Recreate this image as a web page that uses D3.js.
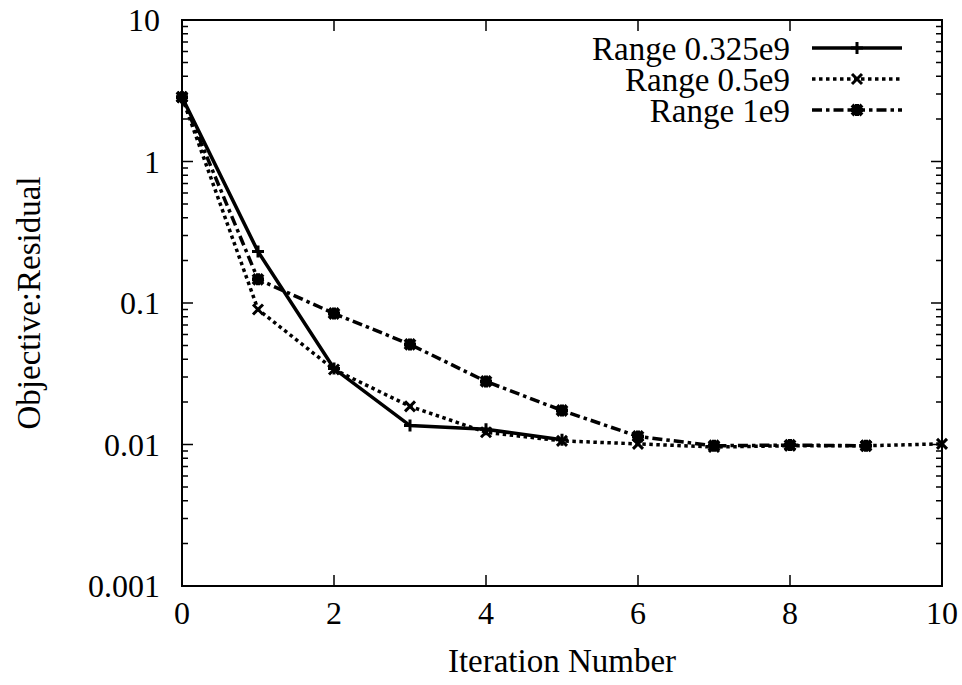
<!DOCTYPE html>
<html>
<head>
<meta charset="utf-8">
<script src="https://cdn.jsdelivr.net/npm/d3@7"></script>
<style>
  body { margin: 0; background: #fff; }
</style>
</head>
<body>
<div id="chart"></div>
<script>
// data
const iterations = [0, 1, 2, 3, 4, 5, 6, 7, 8, 9, 10];
const seriesNames = ['Range 0.325e9', 'Range 0.5e9', 'Range 1e9'];
const range0325 = [2.85, 0.231, 0.0344, 0.0136, 0.0128, 0.0108];
const range05 = [2.85, 0.090, 0.0339, 0.0186, 0.0122, 0.0106, 0.0101, 0.0096, 0.0098, 0.0098, 0.0101];
const range1 = [2.85, 0.147, 0.0843, 0.051, 0.0279, 0.0174, 0.0114, 0.0098, 0.0099, 0.0098];
const xTicks = [0, 2, 4, 6, 8, 10];
const yTicks = [0.001, 0.01, 0.1, 1, 10];

const W = 962, H = 685;
const margin = {t: 20, r: 20, b: 99, l: 182};
const FONT = '"Liberation Serif", Tinos, "Times New Roman", Times, "DejaVu Serif", serif';

const svg = d3.select('#chart').append('svg')
  .attr('width', W).attr('height', H)
  .attr('font-family', FONT);

const x = d3.scaleLinear().domain([0, 10]).range([margin.l, W - margin.r]);
const y = d3.scaleLog().domain([0.001, 10]).range([H - margin.b, margin.t]);

// minor ticks for log axis
const minor = [];
for (let e = -3; e < 1; e++) for (let k = 2; k <= 9; k++) minor.push(k * Math.pow(10, e));

const axisG = svg.append('g');
// frame
axisG.append('rect')
  .attr('x', x(0)).attr('y', y(10))
  .attr('width', x(10) - x(0)).attr('height', y(0.001) - y(10))
  .attr('fill', 'none').attr('stroke', '#000').attr('stroke-width', 2);

// y ticks (left and right, inward)
axisG.selectAll('.ymaj').data(yTicks).join('path')
  .attr('d', d => `M${x(0)},${y(d)}h11M${x(10)},${y(d)}h-11`)
  .attr('stroke', '#000').attr('stroke-width', 1.5);
axisG.selectAll('.ymin').data(minor).join('path')
  .attr('d', d => `M${x(0)},${y(d)}h6M${x(10)},${y(d)}h-6`)
  .attr('stroke', '#000').attr('stroke-width', 1.5);
// x ticks (bottom and top)
axisG.selectAll('.xmaj').data(xTicks).join('path')
  .attr('d', d => `M${x(d)},${y(0.001)}v-11M${x(d)},${y(10)}v11`)
  .attr('stroke', '#000').attr('stroke-width', 1.5);

// tick labels
axisG.selectAll('.yl').data(yTicks).join('text')
  .attr('x', x(0) - 22).attr('y', d => y(d))
  .attr('dy', '0.35em').attr('text-anchor', 'end')
  .attr('font-size', '32px').attr('font-family', FONT)
  .text(d => d3.format('~g')(d));
axisG.selectAll('.xl').data(xTicks).join('text')
  .attr('x', d => x(d)).attr('y', y(0.001) + 38)
  .attr('text-anchor', 'middle')
  .attr('font-size', '32px').attr('font-family', FONT)
  .text(d => d);

// axis titles
svg.append('text')
  .attr('x', (x(0) + x(10)) / 2).attr('y', 672)
  .attr('text-anchor', 'middle').attr('font-size', '33px').attr('font-family', FONT)
  .text('Iteration Number');
svg.append('text')
  .attr('transform', `translate(40,${(y(10) + y(0.001)) / 2}) rotate(-90)`)
  .attr('text-anchor', 'middle').attr('font-size', '33px').attr('font-family', FONT)
  .text('Objective:Residual');

// series
const markers = {
  plus: 'M-6,0H6M0,-6V6',
  cross: 'M-5,-5L5,5M-5,5L5,-5',
  star: 'M-6,0H6M0,-6V6M-5,-5L5,5M-5,5L5,-5'
};
const series = [
  {name: seriesNames[0], values: range0325, dash: null, marker: 'plus'},
  {name: seriesNames[1], values: range05, dash: '3.5,3.5', marker: 'cross'},
  {name: seriesNames[2], values: range1, dash: '10,4,3.5,4', marker: 'star'}
];

const line = d3.line().x((d, i) => x(iterations[i])).y(d => y(d));

const plotG = svg.append('g');
series.forEach(s => {
  plotG.append('path')
    .attr('d', line(s.values))
    .attr('fill', 'none').attr('stroke', '#000').attr('stroke-width', 3.5)
    .attr('stroke-dasharray', s.dash);
  plotG.selectAll(null).data(s.values).join('path')
    .attr('transform', (d, i) => `translate(${x(iterations[i])},${y(d)})`)
    .attr('d', markers[s.marker])
    .attr('fill', 'none').attr('stroke', '#000')
    .attr('stroke-width', s.marker === 'star' ? 4 : 3);
});

// legend
const legend = svg.append('g');
series.forEach((s, i) => {
  const ly = 48 + i * 31;
  legend.append('text')
    .attr('x', 790).attr('y', ly).attr('dy', '0.35em')
    .attr('text-anchor', 'end').attr('font-size', '33px').attr('font-family', FONT)
    .text(s.name);
  legend.append('path')
    .attr('d', `M812,${ly}H902`)
    .attr('stroke', '#000').attr('stroke-width', 3.5)
    .attr('stroke-dasharray', s.dash);
  legend.append('path')
    .attr('transform', `translate(857,${ly})`)
    .attr('d', markers[s.marker])
    .attr('fill', 'none').attr('stroke', '#000')
    .attr('stroke-width', s.marker === 'star' ? 4 : 3);
});
</script>
</body>
</html>
